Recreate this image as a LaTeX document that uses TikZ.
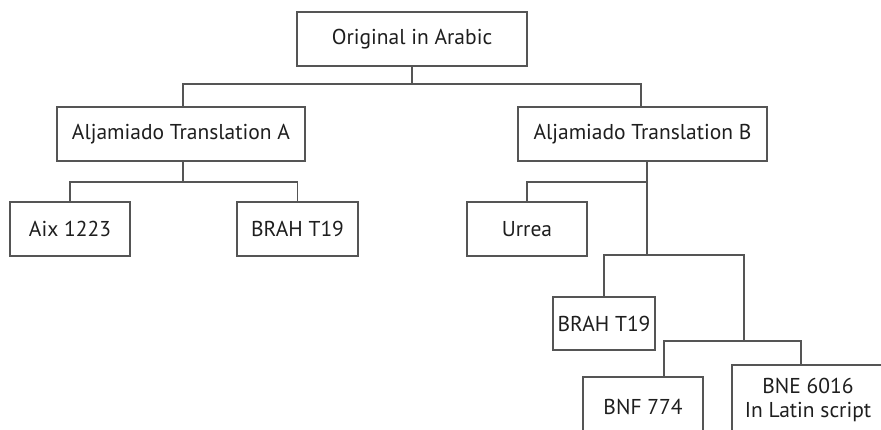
\documentclass[tikz,border=0pt]{standalone}
\usepackage{fontspec}
\setmainfont{PT Sans}
\definecolor{linec}{HTML}{555555}
\definecolor{textc}{HTML}{1E1E1E}
\begin{document}
\begin{tikzpicture}[x=1pt,y=-1pt,
  box/.style={draw=linec, line width=1.4pt, text=textc, inner sep=0pt,
    font=\fontsize{21.5}{24}\selectfont, align=center},
  conn/.style={draw=linec, line width=1.4pt}]
\useasboundingbox (0,0) rectangle (881,429);
\clip (0,0) rectangle (881,429);
\node[box, minimum width=230pt, minimum height=54pt] (orig) at (412,39) {Original in Arabic};
\node[box, minimum width=248pt, minimum height=54pt] (A) at (181,134) {Aljamiado Translation A};
\node[box, minimum width=249pt, minimum height=54pt] (B) at (642.5,134) {Aljamiado Translation B};
\node[box, minimum width=120pt, minimum height=54pt] (Aix) at (70,229) {Aix 1223};
\node[box, minimum width=121pt, minimum height=54pt] (BRAH1) at (297.5,229) {BRAH T19};
\node[box, minimum width=120pt, minimum height=54pt] (Urrea) at (527,229) {Urrea};
\node[box, minimum width=102pt, minimum height=53pt] (BRAH2) at (604,323.5) {BRAH T19};
\node[box, minimum width=120pt, minimum height=60pt] (BNF) at (643,407) {BNF 774};
\node[box, minimum width=152pt, minimum height=70pt] (BNE) at (808,400) {BNE 6016\\In Latin script};
\coordinate (o1) at (412,84);
\coordinate (a1) at (183,182);
\coordinate (b1) at (647,182);
\coordinate (b2) at (647,255);
\coordinate (c1) at (744,255);
\coordinate (c2) at (744,341);
\draw[conn] (orig.south) -- (o1);
\draw[conn] ([xshift=2pt]A.north) |- (o1) -| ([xshift=-1.5pt]B.north);
\draw[conn] ([xshift=2pt]A.south) -- (a1);
\draw[conn] (Aix.north) |- (a1) -| (BRAH1.north);
\draw[conn] ([xshift=4.5pt]B.south) -- (b2);
\draw[conn] (Urrea.north) |- (b1);
\draw[conn] (BRAH2.north) |- (b2) -- (c1) -- (c2);
\draw[conn] ([xshift=21pt]BNF.north) |- (c2) -| ([xshift=-7pt]BNE.north);
\end{tikzpicture}
\end{document}
